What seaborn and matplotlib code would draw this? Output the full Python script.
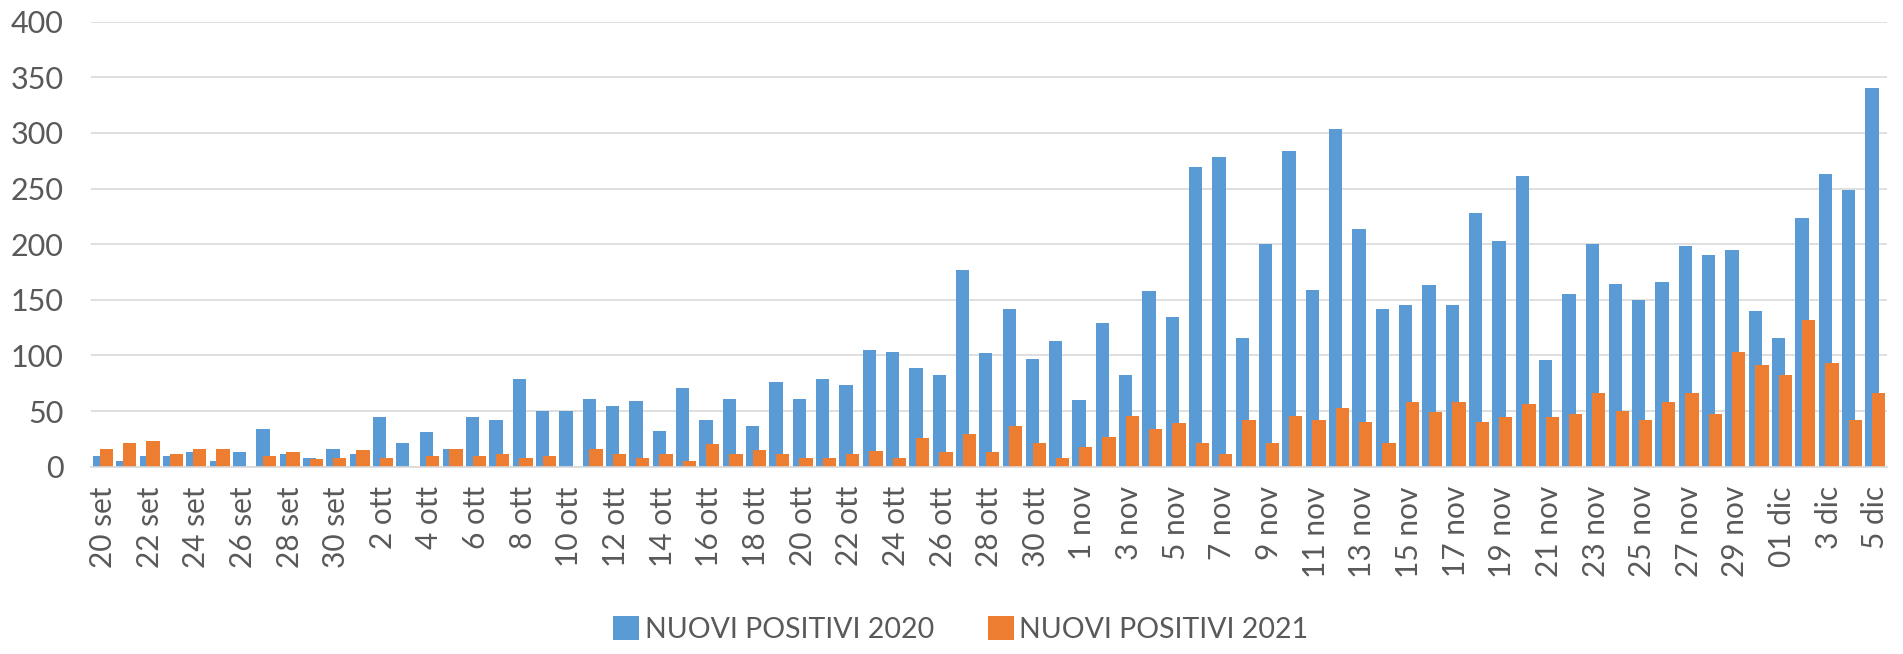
import numpy as np
import pandas as pd
import matplotlib
matplotlib.use("Agg")
import matplotlib.pyplot as plt
import seaborn as sns

# giorni (20 set -> 5 dic)
giorni = ([f"{d} set" for d in range(20, 31)]
          + [f"{d} ott" for d in range(1, 32)]
          + [f"{d} nov" for d in range(1, 31)]
          + ["01 dic", "2 dic", "3 dic", "4 dic", "5 dic"])

positivi_2020 = [10, 5, 10, 10, 13, 5, 13, 34, 11, 8, 16,
                 11, 45, 21, 31, 16, 45, 42, 79, 50, 50, 61, 55, 59, 32, 71, 42,
                 61, 37, 76, 61, 79, 73, 105, 103, 89, 82, 177, 102, 142, 97, 113,
                 60, 129, 82, 158, 135, 269, 278, 116, 200, 284, 159, 304, 214, 142,
                 145, 163, 145, 228, 203, 261, 96, 155, 200, 164, 150, 166, 198, 190,
                 195, 140,
                 116, 224, 263, 249, 340]

positivi_2021 = [16, 21, 23, 11, 16, 16, 0, 10, 13, 7, 8,
                 15, 8, 0, 10, 16, 10, 11, 8, 10, 0, 16, 11, 8, 11, 5, 20,
                 11, 15, 11, 8, 8, 11, 14, 8, 26, 13, 29, 13, 37, 21, 8,
                 18, 27, 46, 34, 39, 21, 11, 42, 21, 46, 42, 53, 40, 21,
                 58, 49, 58, 40, 45, 56, 45, 47, 66, 50, 42, 58, 66, 47,
                 103, 91,
                 82, 132, 93, 42, 66]

serie = ["NUOVI POSITIVI 2020", "NUOVI POSITIVI 2021"]
colori = ["#5B9BD5", "#ED7D31"]
grigio = "#595959"

df = pd.DataFrame({
    "giorno": giorni * 2,
    "serie": [serie[0]] * len(giorni) + [serie[1]] * len(giorni),
    "valore": positivi_2020 + positivi_2021,
})

sns.set_theme(style="white")
plt.rcParams["font.family"] = ["Lato", "DejaVu Sans"]

fig = plt.figure(figsize=(19.03, 6.54), dpi=100)
ax = fig.add_axes([0.048, 0.2864, 0.9436, 0.6804])

sns.barplot(data=df, x="giorno", y="valore", hue="serie", order=giorni,
            palette=colori, dodge=False, width=0.57, saturation=1,
            errorbar=None, linewidth=0, edgecolor="none", ax=ax)

# sovrapposizione tipo Excel: sposta le due serie a sinistra/destra
for cont, shift in zip(ax.containers, [-0.143, 0.143]):
    for p in cont.patches:
        p.set_x(p.get_x() + shift)

ax.set_xlim(-0.5, len(giorni) - 0.5)
ax.set_ylim(0, 400)
ax.set_yticks(np.arange(0, 401, 50))
ax.yaxis.grid(True, color="#D9D9D9", linewidth=1.2)
ax.set_axisbelow(True)
for s in ["top", "right", "left"]:
    ax.spines[s].set_visible(False)
ax.spines["bottom"].set_color("#D9D9D9")
ax.spines["bottom"].set_linewidth(1.2)

ax.set_xticks(range(0, len(giorni), 2))
ax.set_xticklabels(giorni[::2], rotation=90)
ax.tick_params(axis="x", length=0, pad=14, labelsize=21.5, labelcolor=grigio)
ax.tick_params(axis="y", length=0, pad=20, labelsize=22, labelcolor=grigio)
ax.set_xlabel("")
ax.set_ylabel("")

handles, labels = ax.get_legend_handles_labels()
ax.get_legend().remove()
fig.legend(handles, labels, loc="center", bbox_to_anchor=(0.505, 0.037),
           ncol=2, frameon=False, fontsize=20.5, labelcolor=grigio,
           handlelength=0.9, handleheight=0.9, handletextpad=0.2,
           columnspacing=1.9)

fig.savefig("out.png", dpi=100)
